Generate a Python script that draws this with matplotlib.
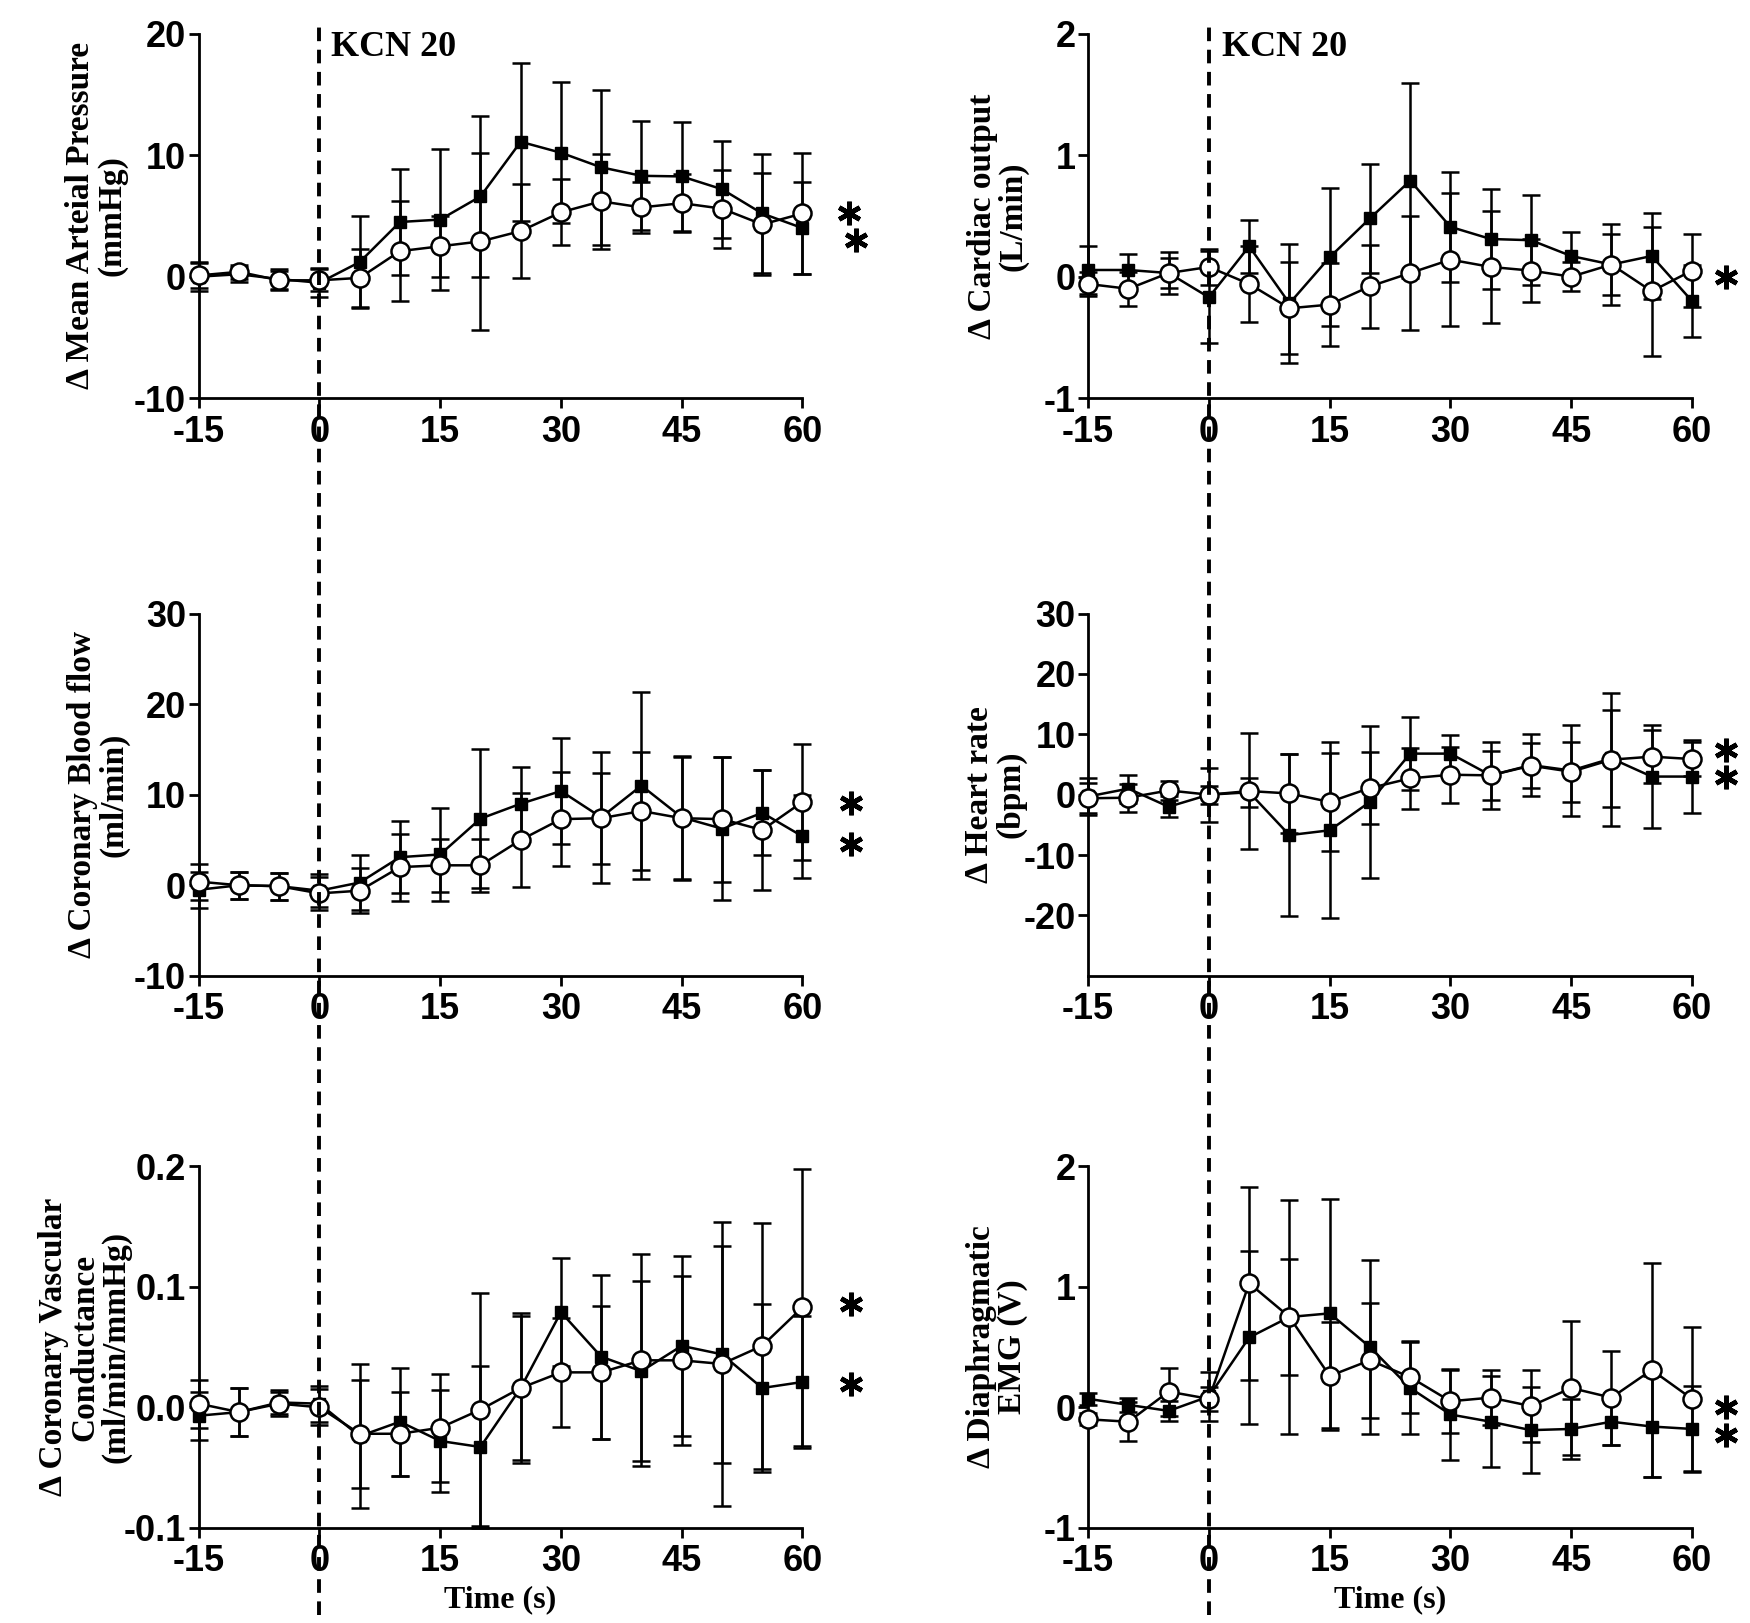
import matplotlib
matplotlib.use('Agg')
import matplotlib.pyplot as plt
import matplotlib.transforms as mtransforms
from matplotlib.lines import Line2D

# ---------------- data ----------------
time_s = [-15, -10, -5, 0, 5, 10, 15, 20, 25, 30, 35, 40, 45, 50, 55, 60]
x_ticks = [-15, 0, 15, 30, 45, 60]

# Mean arterial pressure (mmHg)
map_filled = [0.0, 0.2, -0.2, -0.5, 1.2, 4.5, 4.7, 6.6, 11.1, 10.2, 9.0, 8.3, 8.25, 7.2, 5.2, 4.0]
map_filled_err = [1.2, 0.6, 0.8, 1.2, 3.8, 4.4, 5.8, 6.6, 6.5, 5.8, 6.4, 4.5, 4.5, 4.0, 4.9, 3.8]
map_open = [0.1, 0.4, -0.3, -0.3, -0.1, 2.1, 2.5, 2.9, 3.75, 5.3, 6.2, 5.7, 6.05, 5.6, 4.3, 5.2]
map_open_err = [1.0, 0.6, 0.8, 0.9, 2.4, 4.1, 2.5, 7.3, 3.9, 2.7, 3.9, 2.1, 2.4, 3.2, 4.2, 5.0]

# Cardiac output (L/min)
co_filled = [0.055, 0.055, 0.03, -0.17, 0.25, -0.22, 0.16, 0.48, 0.79, 0.41, 0.31, 0.30, 0.17, 0.10, 0.17, -0.20]
co_filled_err = [0.2, 0.13, 0.17, 0.38, 0.22, 0.49, 0.57, 0.45, 0.8, 0.45, 0.41, 0.37, 0.2, 0.33, 0.35, 0.3]
co_open = [-0.06, -0.1, 0.03, 0.08, -0.06, -0.26, -0.23, -0.08, 0.03, 0.14, 0.08, 0.05, 0.0, 0.1, -0.12, 0.05]
co_open_err = [0.1, 0.14, 0.12, 0.15, 0.31, 0.38, 0.34, 0.34, 0.47, 0.55, 0.46, 0.26, 0.12, 0.25, 0.53, 0.3]

# Coronary blood flow (ml/min)
cbf_filled = [-0.5, 0.0, -0.1, -0.6, 0.3, 3.1, 3.4, 7.35, 9.0, 10.4, 7.5, 11.0, 7.5, 6.25, 8.0, 5.4]
cbf_filled_err = [2.0, 1.5, 1.5, 1.8, 3.0, 4.0, 5.1, 7.7, 4.1, 5.9, 7.2, 10.3, 6.8, 7.9, 4.7, 4.6]
cbf_open = [0.4, 0.0, -0.1, -0.9, -0.6, 2.0, 2.2, 2.2, 5.0, 7.3, 7.4, 8.2, 7.4, 7.3, 6.1, 9.2]
cbf_open_err = [2.0, 1.5, 1.5, 1.8, 2.5, 3.7, 2.9, 2.9, 5.2, 5.2, 5.0, 6.5, 6.8, 6.9, 6.6, 6.4]

# Heart rate (bpm)
hr_filled = [-0.3, 1.0, -2.0, 0.0, 0.4, -6.7, -5.9, -1.2, 6.8, 6.8, 3.2, 4.9, 4.0, 6.0, 3.0, 3.0]
hr_filled_err = [3.0, 2.3, 1.7, 4.5, 2.4, 13.4, 14.6, 12.6, 6.1, 3.1, 5.6, 5.1, 7.5, 8.0, 8.5, 6.0]
hr_open = [-0.6, -0.5, 0.7, 0.0, 0.6, 0.2, -1.2, 1.1, 2.7, 3.3, 3.2, 4.8, 3.8, 5.8, 6.3, 5.9]
hr_open_err = [2.5, 2.3, 1.5, 1.5, 9.6, 6.5, 8.1, 6.0, 5.1, 4.6, 4.0, 3.7, 5.0, 11.0, 4.4, 2.8]

# Coronary vascular conductance (ml/min/mmHg)
cvc_filled = [-0.007, -0.004, 0.004, 0.003, -0.024, -0.012, -0.028, -0.033, 0.016, 0.079, 0.042, 0.030, 0.051, 0.044, 0.016, 0.021]
cvc_filled_err = [0.02, 0.02, 0.01, 0.015, 0.06, 0.045, 0.042, 0.067, 0.062, 0.045, 0.068, 0.075, 0.075, 0.09, 0.07, 0.055]
cvc_open = [0.003, -0.004, 0.003, 0.0, -0.022, -0.022, -0.017, -0.002, 0.016, 0.029, 0.029, 0.039, 0.039, 0.036, 0.051, 0.083]
cvc_open_err = [0.02, 0.02, 0.01, 0.015, 0.045, 0.035, 0.045, 0.097, 0.06, 0.045, 0.055, 0.088, 0.07, 0.118, 0.102, 0.115]

# Diaphragmatic EMG (V)
emg_filled = [0.07, 0.02, -0.03, 0.09, 0.58, 0.75, 0.78, 0.5, 0.16, -0.06, -0.12, -0.19, -0.18, -0.12, -0.16, -0.18]
emg_filled_err = [0.05, 0.06, 0.08, 0.2, 0.72, 0.48, 0.95, 0.72, 0.38, 0.38, 0.38, 0.36, 0.25, 0.19, 0.42, 0.36]
emg_open = [-0.1, -0.12, 0.13, 0.07, 1.03, 0.75, 0.26, 0.39, 0.25, 0.05, 0.08, 0.01, 0.16, 0.08, 0.31, 0.07]
emg_open_err = [0.05, 0.16, 0.2, 0.1, 0.8, 0.97, 0.45, 0.48, 0.3, 0.26, 0.23, 0.3, 0.56, 0.39, 0.89, 0.6]

ylabels = [
    "\u0394 Mean Arteial Pressure\n(mmHg)",
    "\u0394 Cardiac output\n(L/min)",
    "\u0394 Coronary Blood flow\n(ml/min)",
    "\u0394 Heart rate\n(bpm)",
    "\u0394 Coronary Vascular\nConductance\n(ml/min/mmHg)",
    "\u0394 Diaphragmatic\nEMG (V)",
]
ylims = [(-10, 20), (-1, 2), (-10, 30), (-30, 30), (-0.1, 0.2), (-1, 2)]
yticks = [[-10, 0, 10, 20], [-1, 0, 1, 2], [-10, 0, 10, 20, 30],
          [-20, -10, 0, 10, 20, 30], [-0.1, 0.0, 0.1, 0.2], [-1, 0, 1, 2]]
ytick_labels = [["-10", "0", "10", "20"], ["-1", "0", "1", "2"],
                ["-10", "0", "10", "20", "30"],
                ["-20", "-10", "0", "10", "20", "30"],
                ["-0.1", "0.0", "0.1", "0.2"], ["-1", "0", "1", "2"]]
# significance stars: (x, y) in data coordinates
stars = [
    [(65.8, 5.2), (66.6, 3.0)],
    [(64.2, 0.0)],
    [(66.0, 9.1), (66.0, 4.5)],
    [(64.2, 7.4), (64.2, 3.0)],
    [(66.0, 0.086), (66.0, 0.019)],
    [(64.2, 0.0), (64.2, -0.23)],
]
label_x = [-0.118, -0.098, -0.115, -0.102, -0.111, -0.100]

series = [
    (map_filled, map_filled_err, map_open, map_open_err),
    (co_filled, co_filled_err, co_open, co_open_err),
    (cbf_filled, cbf_filled_err, cbf_open, cbf_open_err),
    (hr_filled, hr_filled_err, hr_open, hr_open_err),
    (cvc_filled, cvc_filled_err, cvc_open, cvc_open_err),
    (emg_filled, emg_filled_err, emg_open, emg_open_err),
]

# ---------------- figure ----------------
W, H = 1568.0, 1447.0
fig = plt.figure(figsize=(17.5, 16.23), dpi=100)

lefts = [178 / W, 975 / W]
width = 541 / W
rows = [(30, 355), (547, 870), (1040, 1362)]

tick_font = dict(family=['Liberation Sans', 'DejaVu Sans'], weight='bold', size=26)
serif_font = dict(family=['Liberation Serif', 'DejaVu Serif'], weight='bold', size=24)
kcn_font = dict(family=['Liberation Serif', 'DejaVu Serif'], weight='bold', size=26)
time_font = dict(family=['Liberation Serif', 'DejaVu Serif'], weight='bold', size=23)

axes = []
for r, (top, bot) in enumerate(rows):
    for c in range(2):
        ax = fig.add_axes([lefts[c], 1 - bot / H, width, (bot - top) / H])
        axes.append(ax)

for i, ax in enumerate(axes):
    f, fe, o, oe = series[i]
    e1 = ax.errorbar(time_s, f, yerr=fe, fmt='-', marker='s', color='black',
                     mfc='black', mec='black', ms=8, lw=1.8, elinewidth=1.8,
                     capsize=6.5, capthick=1.8, zorder=3)
    e2 = ax.errorbar(time_s, o, yerr=oe, fmt='-', marker='o', color='black',
                     mfc='white', mec='black', ms=13, mew=1.8, lw=1.8,
                     elinewidth=1.8, capsize=6.5, capthick=1.8, zorder=4)
    for cont in (e1, e2):
        for child in cont.get_children():
            child.set_clip_on(False)

    ax.set_xlim(-15, 60)
    ax.set_ylim(*ylims[i])
    ax.set_xticks(x_ticks)
    ax.set_xticklabels([str(t) for t in x_ticks], fontdict=tick_font)
    ax.set_yticks(yticks[i])
    ax.set_yticklabels(ytick_labels[i], fontdict=tick_font)
    for s in ('top', 'right'):
        ax.spines[s].set_visible(False)
    for s in ('left', 'bottom'):
        ax.spines[s].set_linewidth(2.0)
    ax.tick_params(axis='both', direction='out', length=7, width=2.0)
    ax.tick_params(axis='y', pad=2)
    ax.tick_params(axis='x', pad=5)
    ax.set_ylabel(ylabels[i], fontdict=serif_font, linespacing=1.0)
    ax.yaxis.set_label_coords(label_x[i], 0.5)
    ax.patch.set_alpha(0)

    for (sx, sy) in stars[i]:
        ax.plot([sx], [sy], marker=(6, 2, 0), ms=17, mew=3.4, color='black',
                clip_on=False, zorder=5)

    if i >= 4:
        ax.set_xlabel("Time (s)", fontdict=time_font, labelpad=4)

# "KCN 20" labels
axes[0].text(1.5, 18.9, "KCN 20", ha='left', va='center', **kcn_font)
axes[1].text(1.6, 1.89, "KCN 20", ha='left', va='center', **kcn_font)

# vertical dashed stimulus lines spanning each column
for ax in (axes[0], axes[1]):
    tr = mtransforms.blended_transform_factory(ax.transData, fig.transFigure)
    fig.add_artist(Line2D([0, 0], [0.005, 0.987], transform=tr, color='black',
                          lw=2.8, ls=(0, (3.5, 2.2)), zorder=10))

fig.savefig("out.png", dpi=100, facecolor='white')
